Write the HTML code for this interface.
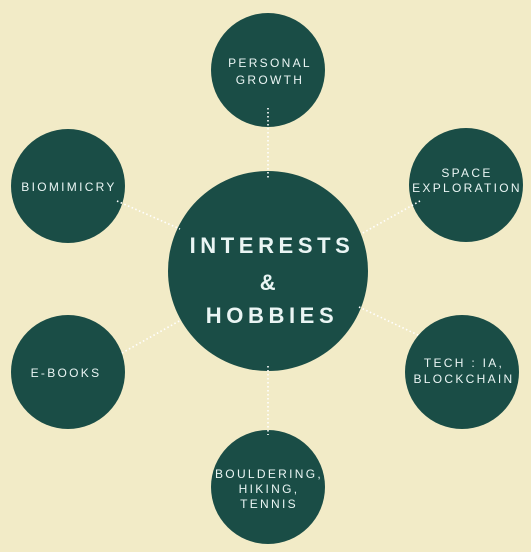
<!DOCTYPE html>
<html><head><meta charset="utf-8"><style>
html,body{margin:0;padding:0;background:#f2ebc7;}
svg{display:block;}
text{font-family:"Liberation Sans",sans-serif;fill:#eaf5f4;text-anchor:middle;}
.s{font-size:12px;letter-spacing:2.3px;}
.b{font-size:22px;font-weight:bold;letter-spacing:4.6px;}
line{stroke:#fff;stroke-width:1.6;stroke-dasharray:1.5 2.5;}
</style></head><body>
<svg width="531" height="552" viewBox="0 0 531 552">
<rect width="531" height="552" fill="#f2ebc7"/>
<g fill="#1a4d46">
<circle cx="268" cy="70" r="57"/>
<circle cx="68" cy="186" r="57"/>
<circle cx="466" cy="185" r="57"/>
<circle cx="68" cy="372" r="57"/>
<circle cx="462" cy="372" r="57"/>
<circle cx="268" cy="487" r="57"/>
<circle cx="268" cy="271" r="100"/>
</g>
<g>
<line x1="268" y1="108" x2="268" y2="178"/>
<line x1="117" y1="201" x2="180" y2="229"/>
<line x1="420" y1="201" x2="361" y2="234"/>
<line x1="122" y1="353" x2="181" y2="320"/>
<line x1="359" y1="307" x2="420" y2="336"/>
<line x1="268" y1="366" x2="268" y2="435"/>
</g>
<text class="s" x="270" y="67">PERSONAL</text>
<text class="s" x="270" y="84">GROWTH</text>
<text class="s" x="69" y="191">BIOMIMICRY</text>
<text class="s" x="467" y="177">SPACE</text>
<text class="s" x="467" y="192">EXPLORATION</text>
<text class="s" x="66" y="377">E-BOOKS</text>
<text class="s" x="464" y="367">TECH : IA,</text>
<text class="s" x="464" y="383">BLOCKCHAIN</text>
<text class="s" x="269" y="478">BOULDERING,</text>
<text class="s" x="269" y="493">HIKING,</text>
<text class="s" x="269" y="508">TENNIS</text>
<text class="b" x="272" y="253">INTERESTS</text>
<text class="b" x="270" y="290">&amp;</text>
<text class="b" x="272" y="323">HOBBIES</text>
</svg>
</body></html>
